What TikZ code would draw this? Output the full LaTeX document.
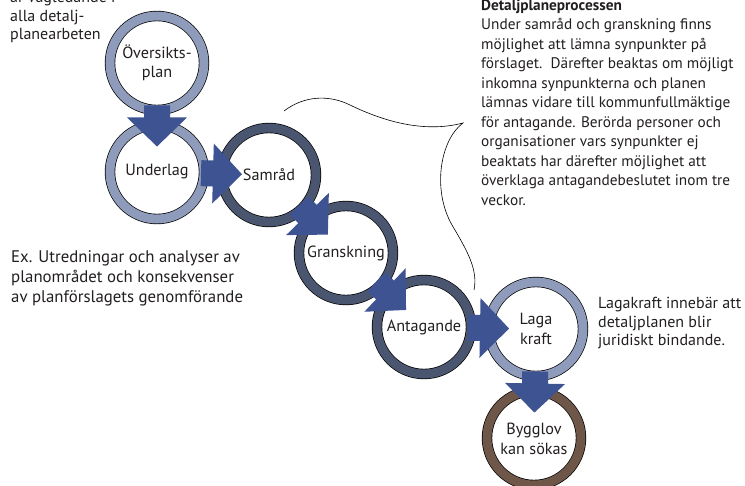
\documentclass[tikz,border=0pt]{standalone}
\usepackage{fontspec}
\setmainfont{PT Sans}
\usetikzlibrary{calc}
\definecolor{ringlight}{HTML}{8F9BBA}
\definecolor{ringdark}{HTML}{4A5570}
\definecolor{ringbrown}{HTML}{6E5648}
\definecolor{arrowblue}{HTML}{3E5492}
\definecolor{textc}{HTML}{231F20}
\newcommand\flowarrow[2]{%
  \coordinate (#1#2m) at ($(#1.center)!0.5!(#2.center)$);
  \coordinate (#1#2s) at ($(#1#2m)!-12pt!(#2.center)$);
  \fill[arrowblue] ($(#1#2s)!13pt!90:(#2.center)$) -- ($(#1#2m)!13pt!90:(#2.center)$)
    -- ($(#1#2m)!30pt!90:(#2.center)$) -- ($(#1#2m)!29pt!(#2.center)$)
    -- ($(#1#2m)!30pt!-90:(#2.center)$) -- ($(#1#2m)!13pt!-90:(#2.center)$)
    -- ($(#1#2s)!13pt!-90:(#2.center)$) -- cycle;}
\tikzset{
  stage/.style={circle, inner sep=0pt, minimum size=94pt, fill=white, draw=black,
    line width=0.7pt, double=#1, double distance=9pt,
    font=\fontsize{16.2}{19.5}\selectfont, align=center, text=textc},
  txt/.style={font=\fontsize{15.3}{19.5}\selectfont, align=left, inner sep=0pt,
    text=textc, anchor=north west},
  bracket/.style={draw=black, line width=0.6pt}
}
\begin{document}
\begin{tikzpicture}[x=1pt,y=-1pt]
\useasboundingbox (0,0) rectangle (745,486);
\clip (0,0) rectangle (745,486);
\fill[white] (0,0) rectangle (745,486);
% stages
\node[stage=ringlight] (ov) at (157,63) {Översikts-\\plan};
\node[stage=ringlight] (ul) at (157,172) {Underlag};
\node[stage=ringdark] (sa) at (269,175) {Samråd};
\node[stage=ringdark] (gr) at (346,253) {Granskning};
\node[stage=ringdark] (an) at (424,327) {Antagande};
\node[stage=ringlight] (lk) at (536,329) {Laga\\kraft};
\node[stage=ringbrown] (bg) at (534,438) {\\[-6pt]Bygglov\\kan sökas};
% arrows
\flowarrow{ov}{ul}
\flowarrow{ul}{sa}
\flowarrow{sa}{gr}
\flowarrow{gr}{an}
\flowarrow{an}{lk}
\flowarrow{lk}{bg}
% bracket
\coordinate (b1) at (284,111);
\coordinate (b2) at (463,123);
\coordinate (b3) at (474,290);
\draw[bracket] (b1) .. controls (305,95) and (330,95) .. (350,105)
  .. controls (385,122) and (425,133) .. (b2)
  .. controls (440,140) and (432,190) .. (452,225)
  .. controls (468,252) and (478,270) .. (b3);
% texts
\node[txt, font=\fontsize{16}{18.5}\selectfont] (tl) at (10,-9) {är vägledande i\\alla detalj-\\planearbeten};
\node[txt] (rt) at (481,-1) {\textbf{Detaljplaneprocessen}\\
Under samråd och granskning finns\\
möjlighet att lämna synpunkter på\\
förslaget.\ \ Därefter beaktas om möjligt\\
inkomna synpunkterna och planen\\
lämnas vidare till kommunfullmäktige\\
för antagande. Berörda personer och\\
organisationer vars synpunkter ej\\
beaktats har därefter möjlighet att\\
överklaga antagandebeslutet inom tre\\
veckor.};
\node[txt, font=\fontsize{16.8}{20}\selectfont] (ex) at (11,250) {Ex. Utredningar och analyser av\\
planområdet och konsekvenser\\
av planförslagets genomförande};
\node[txt, font=\fontsize{16}{18.5}\selectfont] (lt) at (598,297) {Lagakraft innebär att\\
detaljplanen blir\\
juridiskt bindande.};
\end{tikzpicture}
\end{document}
